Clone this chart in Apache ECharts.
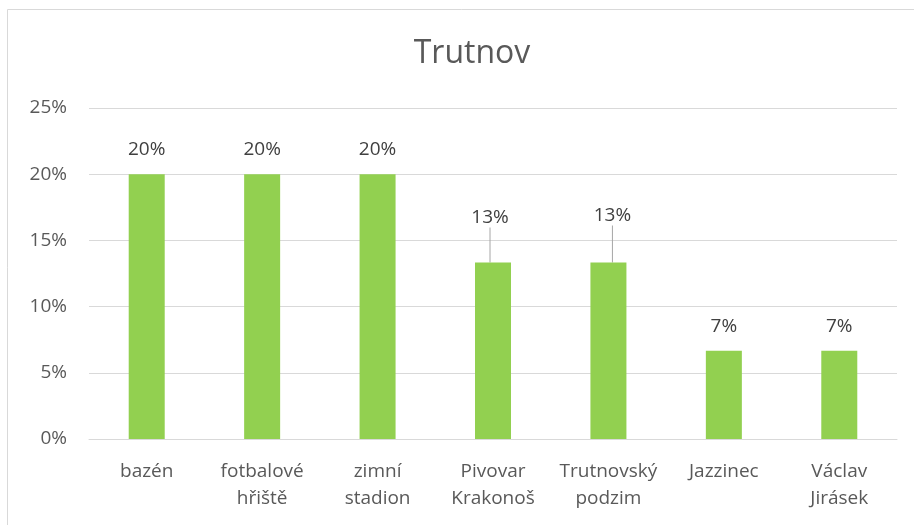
<!DOCTYPE html>
<html><head><meta charset="utf-8">
<script src="https://cdn.jsdelivr.net/npm/echarts@6/dist/echarts.min.js"></script>
<style>html,body{margin:0;padding:0;background:#fff}#c{width:914px;height:525px}</style>
</head><body><div id="c"></div>
<script>
const titleText = "Trutnov";
const categories = ["bazén", "fotbalové\nhřiště", "zimní\nstadion", "Pivovar\nKrakonoš", "Trutnovský\npodzim", "Jazzinec", "Václav\nJirásek"];
const values = [20, 20, 20, 13.33, 13.33, 6.67, 6.67];
const leaderIdx = [3, 4];
const FONT = "'Open Sans', sans-serif";
const chart = echarts.init(document.getElementById('c'));
chart.setOption({
  animation: false,
  graphic: [{type:'rect', shape:{x:7.5,y:9.5,width:920,height:530}, style:{fill:'none', stroke:'#d9d9d9', lineWidth:1}}],
  title: {text: titleText, left: 467, top: 33, textAlign:'center',
    textStyle:{fontFamily:FONT, fontSize:32, fontWeight:'normal', color:'#595959'}},
  grid: {left: 89, right: 17, top: 108, bottom: 86, containLabel:false},
  xAxis: {type:'category', data: categories,
    axisLine:{lineStyle:{color:'#d9d9d9', width:1}}, axisTick:{show:false},
    axisLabel:{fontFamily:FONT, fontSize:19, color:'#595959', margin:19, lineHeight:27, interval:0}},
  yAxis: {type:'value', min:0, max:25, interval:5,
    axisLine:{show:false}, axisTick:{show:false},
    splitLine:{lineStyle:{color:'#d9d9d9', width:1}},
    axisLabel:{fontFamily:FONT, fontSize:19, color:'#595959', margin:22, formatter: v => v + '%'}},
  series: [{type:'bar', barWidth: 36,
    data: values.map((v, i) => leaderIdx.includes(i) ? {value: v, labelLine:{show:true}} : v),
    itemStyle:{color:'#92D050'},
    label:{show:true, position:'top', distance:15, fontFamily:FONT, fontSize:19, color:'#404040',
      formatter: p => Math.round(p.value) + '%'},
    labelLine:{show:false, lineStyle:{color:'#a6a6a6', width:1}},
    labelLayout: function(p){ if(p.dataIndex===3) return {dy:-20, dx:-3}; if(p.dataIndex===4) return {dy:-22, dx:4}; return {}; }
  }]
});
</script></body></html>
